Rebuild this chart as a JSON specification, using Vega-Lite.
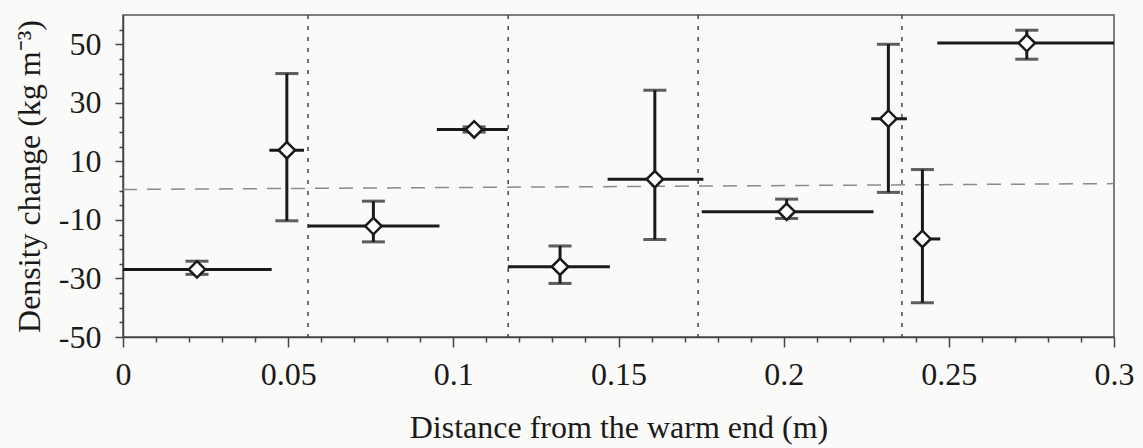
{
  "$schema": "https://vega.github.io/schema/vega-lite/v6.json",
  "width": 991,
  "height": 322,
  "autosize": {"type": "none"},
  "padding": {"left": 123, "top": 15, "right": 29, "bottom": 111},
  "background": "#fafaf8",
  "config": {
    "view": {"stroke": "#555", "strokeWidth": 1.5},
    "font": "Liberation Serif"
  },
  "datasets": {
    "pts": [
      {"x": 0.0224, "y": -26.9, "xlo": 0.0, "xhi": 0.045, "ylo": -28.6, "yhi": -24.1},
      {"x": 0.0496, "y": 13.8, "xlo": 0.0443, "xhi": 0.0548, "ylo": -10.3, "yhi": 40.0},
      {"x": 0.0758, "y": -12.1, "xlo": 0.056, "xhi": 0.0958, "ylo": -17.5, "yhi": -3.6},
      {"x": 0.1063, "y": 20.9, "xlo": 0.095, "xhi": 0.1165, "ylo": 20.0, "yhi": 21.8},
      {"x": 0.1323, "y": -26.0, "xlo": 0.1165, "xhi": 0.1474, "ylo": -31.7, "yhi": -18.9},
      {"x": 0.161, "y": 3.9, "xlo": 0.1467, "xhi": 0.1757, "ylo": -16.7, "yhi": 34.3},
      {"x": 0.2009, "y": -7.2, "xlo": 0.1752, "xhi": 0.2272, "ylo": -9.5, "yhi": -2.9},
      {"x": 0.2317, "y": 24.6, "xlo": 0.2265, "xhi": 0.2373, "ylo": -0.6, "yhi": 50.0},
      {"x": 0.242, "y": -16.5, "xlo": 0.2395, "xhi": 0.2474, "ylo": -38.3, "yhi": 7.2},
      {"x": 0.2736, "y": 50.4, "xlo": 0.2465, "xhi": 0.3, "ylo": 44.9, "yhi": 54.8}
    ],
    "vlines": [{"x": 0.056}, {"x": 0.1166}, {"x": 0.1741}, {"x": 0.2358}],
    "hline": [{"x": 0, "x2": 0.3, "y": 0.4, "y2": 2.4}]
  },
  "resolve": {"axis": {"x": "independent", "y": "independent"}},
  "layer": [
    {
      "data": {"name": "hline"},
      "mark": {"type": "rule", "color": "#8a8a8a", "strokeWidth": 1.5, "strokeDash": [14, 10]},
      "encoding": {
        "x": {"field": "x", "type": "quantitative", "scale": {"domain": [0, 0.3], "nice": false, "zero": false}, "axis": null},
        "x2": {"field": "x2"},
        "y": {"field": "y", "type": "quantitative", "scale": {"domain": [-50, 60], "nice": false, "zero": false}, "axis": null},
        "y2": {"field": "y2"}
      }
    },
    {
      "data": {"name": "vlines"},
      "mark": {"type": "rule", "color": "#444", "strokeWidth": 1.5, "strokeDash": [4, 7]},
      "encoding": {
        "x": {"field": "x", "type": "quantitative", "axis": null}
      }
    },
    {
      "data": {"name": "pts"},
      "mark": {"type": "rule", "color": "#1a1a1a", "strokeWidth": 3},
      "encoding": {
        "x": {"field": "xlo", "type": "quantitative", "axis": null},
        "x2": {"field": "xhi"},
        "y": {"field": "y", "type": "quantitative", "axis": null}
      }
    },
    {
      "data": {"name": "pts"},
      "mark": {"type": "errorbar", "ticks": {"size": 23, "thickness": 3, "color": "#1a1a1a"}, "thickness": 3, "color": "#1a1a1a"},
      "encoding": {
        "x": {"field": "x", "type": "quantitative", "axis": null},
        "y": {"field": "ylo", "type": "quantitative", "axis": null},
        "y2": {"field": "yhi"}
      }
    },
    {
      "data": {"name": "pts"},
      "mark": {"type": "point", "shape": "diamond", "filled": true, "fill": "#ffffff", "stroke": "#1a1a1a", "strokeWidth": 2.5, "size": 270, "opacity": 1},
      "encoding": {
        "x": {
          "field": "x", "type": "quantitative",
          "axis": {
            "orient": "bottom",
            "values": [0, 0.05, 0.1, 0.15, 0.2, 0.25, 0.3],
            "labelExpr": "'' + datum.value",
            "labelFont": "Liberation Serif", "labelFontSize": 32, "labelColor": "#1a1a1a",
            "labelPadding": 12, "labelFlush": false, "labelOverlap": false,
            "tickSize": 10, "tickWidth": 1.5, "tickColor": "#444",
            "domainColor": "#444", "domainWidth": 1.5, "grid": false,
            "title": "Distance from the warm end (m)",
            "titleFont": "Liberation Serif", "titleFontSize": 32, "titleFontWeight": "normal", "titleColor": "#1a1a1a",
            "titlePadding": 22
          }
        },
        "y": {
          "field": "y", "type": "quantitative",
          "axis": {
            "orient": "left",
            "values": [-50, -30, -10, 10, 30, 50],
            "labelExpr": "'' + datum.value",
            "labelFont": "Liberation Serif", "labelFontSize": 32, "labelColor": "#1a1a1a",
            "labelPadding": 14, "labelFlush": false, "labelOverlap": false,
            "tickSize": 8, "tickWidth": 1.5, "tickColor": "#444",
            "domainColor": "#444", "domainWidth": 1.5, "grid": false,
            "title": "Density change (kg m⁻³)",
            "titleFont": "Liberation Serif", "titleFontSize": 32, "titleFontWeight": "normal", "titleColor": "#1a1a1a",
            "titlePadding": 12
          }
        }
      }
    },
    {
      "data": {"name": "pts"},
      "mark": {"type": "point", "opacity": 0},
      "encoding": {
        "x": {
          "field": "x", "type": "quantitative",
          "axis": {
            "orient": "bottom",
            "values": [0.01, 0.02, 0.03, 0.04, 0.06, 0.07, 0.08, 0.09, 0.11, 0.12, 0.13, 0.14, 0.16, 0.17, 0.18, 0.19, 0.21, 0.22, 0.23, 0.24, 0.26, 0.27, 0.28, 0.29],
            "labels": false, "domain": false, "grid": false, "title": null,
            "tickSize": 5, "tickWidth": 1.5, "tickColor": "#444"
          }
        },
        "y": {
          "field": "y", "type": "quantitative",
          "axis": {
            "orient": "left",
            "values": [-45, -40, -35, -25, -20, -15, -5, 0, 5, 15, 20, 25, 35, 40, 45, 55],
            "labels": false, "domain": false, "grid": false, "title": null,
            "tickSize": 4, "tickWidth": 1.5, "tickColor": "#444"
          }
        }
      }
    }
  ]
}
